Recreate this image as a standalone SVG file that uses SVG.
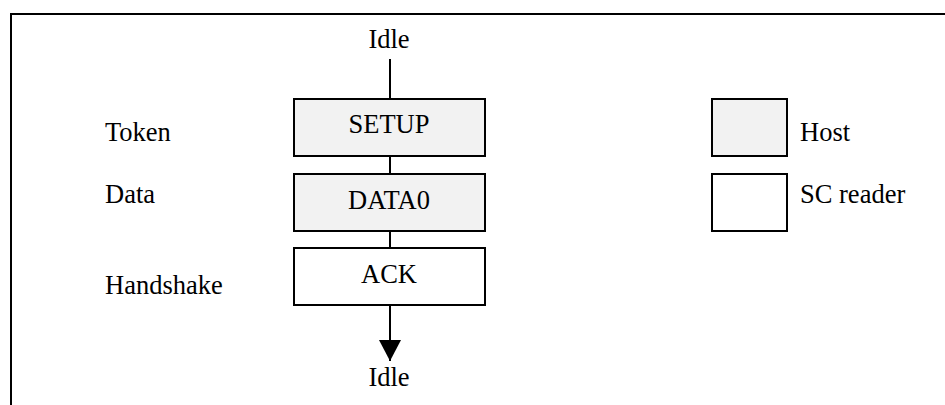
<svg xmlns="http://www.w3.org/2000/svg" width="945" height="405" viewBox="0 0 945 405">
<style>
text{font-family:"Liberation Serif","Times New Roman",serif;font-size:26.5px;fill:#000}
.c{text-anchor:middle}
.box{stroke:#000;stroke-width:2}
.host{fill:#f2f2f2}
.reader{fill:#fff}
.ln{stroke:#000;stroke-width:2;fill:none}
</style>
<defs>
<marker id="arr" markerUnits="userSpaceOnUse" markerWidth="22" markerHeight="22" refX="21" refY="11" orient="auto" viewBox="0 0 22 22">
<path d="M0,0 L21,11 L0,22 Z" fill="#000"/>
</marker>
</defs>
<rect width="945" height="405" fill="#fff"/>
<path d="M11,405 L11,14 L945,14" class="ln"/>
<g id="labels">
<text x="105" y="141">Token</text>
<text x="105" y="203">Data</text>
<text x="105" y="294">Handshake</text>
</g>
<g id="idle-top"><text class="c" x="389" y="48">Idle</text></g>
<g id="idle-bottom"><text class="c" x="389" y="386">Idle</text></g>
<g id="connectors">
<line class="ln" x1="390" y1="59" x2="390" y2="99"/>
<line class="ln" x1="390" y1="156" x2="390" y2="174"/>
<line class="ln" x1="390" y1="231" x2="390" y2="248"/>
<line class="ln" x1="390" y1="305" x2="390" y2="361" marker-end="url(#arr)"/>
</g>
<g id="setup"><rect class="box host" x="294" y="99" width="191" height="57"/><text class="c" x="389" y="133">SETUP</text></g>
<g id="data0"><rect class="box host" x="294" y="174" width="191" height="57"/><text class="c" x="389" y="209">DATA0</text></g>
<g id="ack"><rect class="box reader" x="294" y="248" width="191" height="57"/><text class="c" x="389" y="283">ACK</text></g>
<g id="legend-host"><rect class="box host" x="712" y="99" width="75" height="57"/><text x="800" y="141">Host</text></g>
<g id="legend-reader"><rect class="box reader" x="712" y="174" width="75" height="57"/><text x="800" y="203">SC reader</text></g>
</svg>
